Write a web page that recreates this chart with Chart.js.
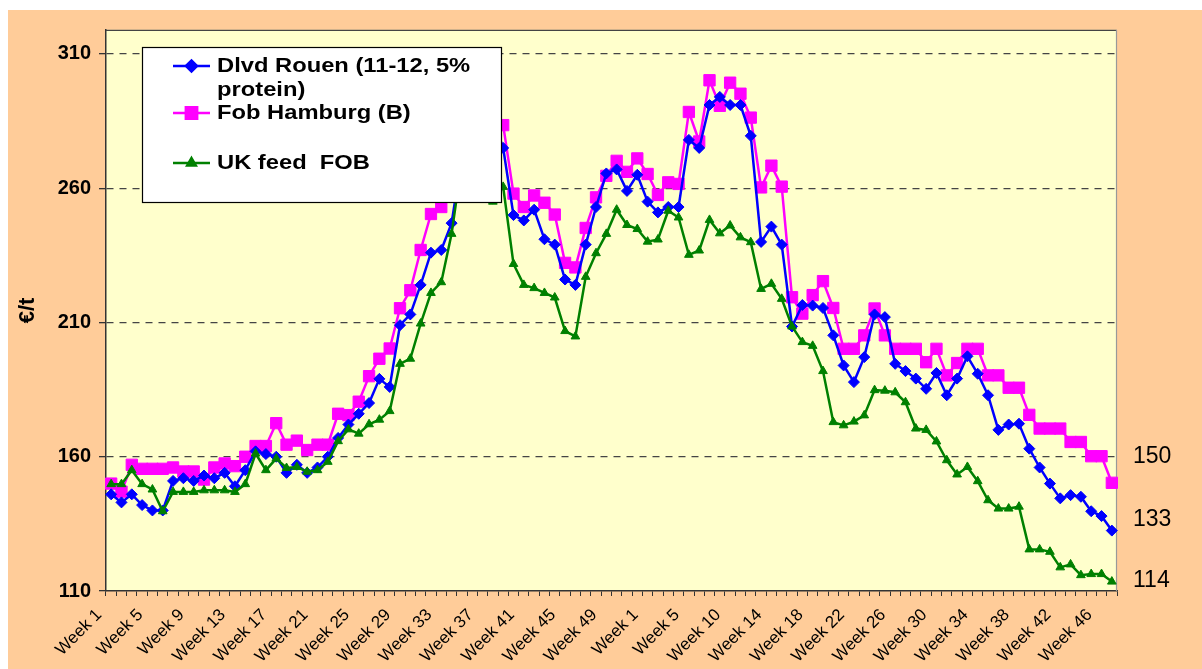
<!DOCTYPE html>
<html>
<head>
<meta charset="utf-8">
<script src="https://cdn.jsdelivr.net/npm/chart.js@4.4.1/dist/chart.umd.min.js"></script>
<style>
  html, body { margin: 0; padding: 0; background: #ffffff; }
  #wrap { position: absolute; left: 0; top: 0; width: 1202px; height: 669px; }
  canvas { display: block; }
</style>
</head>
<body>
<div id="wrap"><canvas id="c" width="1202" height="669"></canvas></div>
<script>
// ---- data ----
const weekNumbers = [
  1,2,3,4,5,6,7,8,9,10,11,12,13,14,15,16,17,18,19,20,21,22,23,24,25,26,
  27,28,29,30,31,32,33,34,35,36,37,38,39,40,41,42,43,44,45,46,47,48,49,50,51,52,
  1,2,3,4,5,6,7,8,10,11,12,13,14,15,16,17,18,19,20,21,22,23,24,25,26,27,28,29,
  30,31,32,33,34,35,36,37,38,39,40,41,42,43,44,45,46,47
];
const categories = weekNumbers.map(n => 'Week ' + n);

const rouen = [
  146,143,146,142,140,140,151,152,151,153,152,154,149,155,162,161,160,154,157,154,
  156,160,167,172,176,180,189,186,209,213,224,236,237,247,272,280,285,286,275,250,
  248,252,241,239,226,224,239,253,265.5,267,259,265,255,251,253,253,278,275,291,294,
  291,291,279.5,240,245.7,239,208.5,216.5,216.3,215.4,205.2,194,187.8,197.1,213,212,194.6,191.9,189.1,185.3,
  191.2,182.9,189.1,197.4,190.9,182.9,170,172,172.3,163,156,150,144.5,145.7,145.1,139.7,137.9,132.5
];
const hamburg = [
  150,147,157,155.5,155.5,155.5,156,154.5,154.5,151.5,156,157.5,156.5,160,164,164,172.5,164.5,166,162.5,
  164.5,164.5,176,175.5,180.5,190,196.5,200.3,215.3,222,237,250.4,253,262,275,287,293,292,283.5,258,
  253,257.3,254.6,250.2,232.2,230.5,245.2,256.6,264.6,270.2,266.1,271.1,265.3,257.5,262.2,261.6,288.4,277.4,300.2,290.7,
  299.3,295.2,286.3,260.3,268.4,260.6,219.4,213.3,220.2,225.4,215.4,200.2,200.2,205.2,215.2,205.2,200.2,200.2,200.2,195.2,
  200.2,190.3,194.9,200.2,200.2,190.3,190.3,185.7,185.7,175.6,170.5,170.5,170.5,165.5,165.5,160.2,160.2,150.3
];
const ukFeed = [
  149.8,149.8,155,149.8,147.8,139.7,146.9,146.9,146.9,147.5,147.5,147.5,146.9,149.8,161.2,155,159.3,155.8,156.2,154.4,
  155,158.1,165.8,170.2,168.6,172.1,173.8,177,194.6,196.5,209.6,221,225,243,270,272,268,255,260.5,231.8,
  224,222.8,221,219.3,206.8,204.8,227,235.8,243,252,246.3,244.8,240.1,240.9,251.6,249.1,235.2,236.8,248.2,243.2,
  246.1,241.7,239.9,222.5,224.4,218.8,208.5,202.7,201.3,191.9,172.9,171.7,173.1,175.4,184.8,184.6,184,180.3,170.5,170,
  165.7,158.7,153.4,156.2,150.9,143.8,140.7,140.7,141.4,125.5,125.5,124.6,118.8,119.9,115.9,116.3,116.3,113.5
];

const seriesNames = ['Dlvd Rouen (11-12, 5% protein)', 'Fob Hamburg (B)', 'UK feed  FOB'];
const legendLines = [['Dlvd Rouen (11-12, 5%', 'protein)'], ['Fob Hamburg (B)'], ['UK feed  FOB']];
const yTicks = [110, 160, 210, 260, 310];
const endLabels = ['150', '133', '114'];
const endLabelValues = [160, 136.5, 114];
const yTitle = '€/t';

// ---- styles ----
const FONT = '"Liberation Sans", Arial, sans-serif';
const colors = ['#0000FF', '#FF00FF', '#008000'];
const pointStyles = ['rectRot', 'rect', 'triangle'];
const pointRadii = [5.5, 8, 5];

const bgPlugin = {
  id: 'bg',
  beforeDraw(chart) {
    const ctx = chart.ctx, a = chart.chartArea;
    ctx.save();
    ctx.fillStyle = '#ffffff';
    ctx.fillRect(0, 0, chart.width, chart.height);
    ctx.fillStyle = '#FFCC99';
    ctx.fillRect(8, 10, chart.width - 8, chart.height - 10);
    ctx.fillStyle = '#FFFFCC';
    ctx.fillRect(a.left, a.top, a.right - a.left, a.bottom - a.top);
    ctx.restore();
  },
  beforeDatasetsDraw(chart) {
    const ctx = chart.ctx, a = chart.chartArea;
    ctx.save();
    ctx.strokeStyle = '#555';
    ctx.lineWidth = 1.2;
    ctx.beginPath();
    ctx.moveTo(a.left, a.top + 0.5);
    ctx.lineTo(a.right - 0.5, a.top + 0.5);
    ctx.strokeStyle = '#444';
    ctx.stroke();
    ctx.beginPath();
    ctx.moveTo(a.right - 0.5, a.top);
    ctx.lineTo(a.right - 0.5, a.bottom);
    ctx.strokeStyle = '#999';
    ctx.stroke();
    ctx.restore();
  }
};

const legendPlugin = {
  id: 'boxLegend',
  afterDatasetsDraw(chart) {
    const ctx = chart.ctx;
    const bx = 142, by = 47, bw = 359, bh = 155;
    ctx.save();
    ctx.fillStyle = '#ffffff';
    ctx.fillRect(bx, by, bw, bh);
    ctx.strokeStyle = '#000';
    ctx.lineWidth = 1.2;
    ctx.strokeRect(bx + 0.5, by + 0.5, bw, bh);
    const rowY = [66, 113, 163];
    const lineH = 24;
    legendLines.forEach((lines, i) => {
      const y = rowY[i];
      ctx.strokeStyle = colors[i];
      ctx.lineWidth = 2.5;
      ctx.beginPath();
      ctx.moveTo(173, y);
      ctx.lineTo(210, y);
      ctx.stroke();
      ctx.fillStyle = colors[i];
      Chart.helpers.drawPoint(ctx, {
        pointStyle: pointStyles[i], radius: pointRadii[i], rotation: 0, borderWidth: 1
      }, 191.5, y);
      ctx.fill();
      ctx.fillStyle = '#000';
      ctx.font = 'bold 21px ' + FONT;
      ctx.textBaseline = 'middle';
      ctx.textAlign = 'left';
      lines.forEach((t, k) => {
        ctx.save();
        ctx.translate(217, y + k * lineH);
        ctx.scale(1.13, 1);
        ctx.fillText(t, 0, 0);
        ctx.restore();
      });
    });
    ctx.restore();
  }
};

function ds(label, data, i, order) {
  return {
    label, data,
    borderColor: colors[i], backgroundColor: colors[i],
    pointBackgroundColor: colors[i], pointBorderColor: colors[i],
    borderWidth: 2.5, pointStyle: pointStyles[i], pointRadius: pointRadii[i],
    pointBorderWidth: 1, tension: 0, order
  };
}

new Chart(document.getElementById('c'), {
  type: 'line',
  data: {
    labels: categories,
    datasets: [
      ds(seriesNames[0], rouen, 0, 1),
      ds(seriesNames[1], hamburg, 1, 2),
      ds(seriesNames[2], ukFeed, 2, 0)
    ]
  },
  options: {
    responsive: false,
    devicePixelRatio: 1,
    animation: false,
    layout: { padding: { left: 0, right: 0, top: 29, bottom: 0 } },
    plugins: { legend: { display: false }, tooltip: { enabled: false } },
    scales: {
      x: {
        type: 'category',
        offset: true,
        grid: { display: true, drawOnChartArea: false, offset: true, tickLength: 5, color: '#333', tickColor: '#333', lineWidth: 1 },
        border: { color: '#333', width: 1.5 },
        ticks: {
          autoSkip: false, maxRotation: 45, minRotation: 45,
          font: { family: FONT, size: 17 }, color: '#000', padding: 9, labelOffset: -12,
          callback: (v, i) => (i % 4 === 0 ? categories[i] : '')
        },
        afterFit: s => { s.height = 78; }
      },
      y: {
        min: 110, max: 319,
        afterBuildTicks: s => { s.ticks = yTicks.map(v => ({ value: v })); },
        afterFit: s => { s.width = 106; },
        grid: {
          color: c => (c.tick && c.tick.value === 110 ? 'rgba(0,0,0,0)' : '#444'),
          lineWidth: 1.3, tickLength: 7, tickColor: '#333', tickBorderDash: [], tickWidth: 1.3
        },
        border: { color: '#333', width: 1.5, dash: [7, 6] },
        ticks: { font: { family: FONT, size: 20, weight: 'bold' }, color: '#000', padding: 8 },
        title: { display: true, text: yTitle, font: { family: FONT, size: 22, weight: 'bold' }, color: '#000', padding: { top: 15, bottom: 0 } }
      },
      y2: {
        position: 'right',
        min: 110, max: 319,
        afterBuildTicks: s => { s.ticks = endLabelValues.map(v => ({ value: v })); },
        afterFit: s => { s.width = 85; },
        grid: { display: false, drawTicks: false },
        border: { display: false },
        ticks: { callback: (v, i) => endLabels[i], font: { family: FONT, size: 23 }, color: '#000', padding: 16 }
      }
    }
  },
  plugins: [bgPlugin, legendPlugin]
});
</script>
</body>
</html>
